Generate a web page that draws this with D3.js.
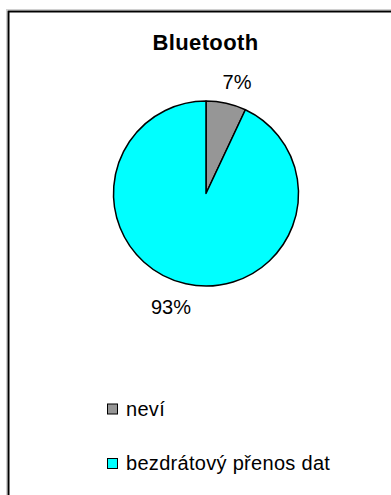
<!DOCTYPE html>
<html>
<head>
<meta charset="utf-8">
<script src="https://cdn.jsdelivr.net/npm/d3@7"></script>
<style>
  body { margin: 0; background: #fff; }
  svg { display: block; font-family: "Liberation Sans", Arial, sans-serif; }
</style>
</head>
<body>
<svg id="chart" width="391" height="495"></svg>
<script>
let categories = ['neví', 'bezdrátový přenos dat'];
let values = [7, 93];
let colors = ['#969696', '#00ffff'];
let title = 'Bluetooth';

let svg = d3.select('#chart');

// light shadow line + chart frame, runs off the right and bottom edge
svg.append('rect')
   .attr('x', 6.5)
   .attr('y', 9.5)
   .attr('width', 400)
   .attr('height', 500)
   .attr('fill', 'none')
   .attr('stroke', '#d0d0d0')
   .attr('stroke-width', 1);

svg.append('rect')
   .attr('x', 8.5)
   .attr('y', 11.5)
   .attr('width', 400)
   .attr('height', 500)
   .attr('fill', '#fff')
   .attr('stroke', '#000')
   .attr('stroke-width', 2);

svg.append('text')
   .attr('x', 205.5)
   .attr('y', 50)
   .attr('text-anchor', 'middle')
   .attr('font-size', 22)
   .attr('font-weight', 'bold')
   .attr('letter-spacing', 0.4)
   .text(title);

let cx = 206, cy = 193.5, radius = 92.5;

let pie = d3.pie().sort(null).value(d => d);
let arcs = pie(values);
let arc = d3.arc().innerRadius(0).outerRadius(radius);

let pieGroup = svg.append('g')
                  .attr('transform', `translate(${cx},${cy})`);

pieGroup.selectAll('path')
        .data(arcs)
        .enter()
        .append('path')
        .attr('d', arc)
        .attr('fill', (d, i) => colors[i])
        .attr('stroke', '#000')
        .attr('stroke-width', 1.5)
        .attr('stroke-linejoin', 'round');

let total = d3.sum(values);

pieGroup.selectAll('.pct')
        .data(arcs)
        .enter()
        .append('text')
        .attr('class', 'pct')
        .attr('x', (d, i) => i === 0 ? 31 : -35)
        .attr('y', (d, i) => i === 0 ? -104.5 : 120.5)
        .attr('text-anchor', 'middle')
        .attr('font-size', 20)
        .text(d => Math.round(d.data / total * 100) + '%');

let legend = svg.append('g');
let rowY = d3.scalePoint().domain(categories).range([409, 463.5]);

legend.selectAll('rect')
      .data(categories)
      .enter()
      .append('rect')
      .attr('x', 107.5)
      .attr('y', d => rowY(d) - 5)
      .attr('width', 10)
      .attr('height', 10)
      .attr('fill', (d, i) => colors[i])
      .attr('stroke', '#000')
      .attr('stroke-width', 1);

legend.selectAll('text')
      .data(categories)
      .enter()
      .append('text')
      .attr('x', 126)
      .attr('y', d => rowY(d) + 6.5)
      .attr('font-size', 20)
      .attr('letter-spacing', 0.3)
      .text(d => d);
</script>
</body>
</html>
